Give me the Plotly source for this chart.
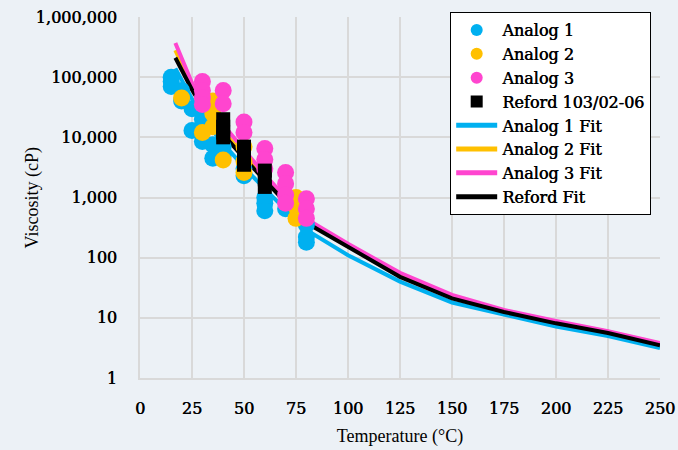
import plotly.graph_objects as go

# ---------------- data ----------------
a1_temp = [15, 15, 15, 20, 20, 25, 25, 30, 30, 35, 35, 40, 40, 50, 50, 60, 60, 60, 70, 80, 80, 80]
a1_visc = [100000, 85000, 70000, 60000, 40000, 30000, 13000, 20000, 8500, 7500, 4500, 7000, 5000,
           3000, 2300, 1000, 800, 600, 650, 350, 220, 180]

a2_temp = [20, 30, 35, 35, 35, 40, 50, 50, 50, 75, 75, 75]
a2_visc = [45000, 12000, 40000, 25000, 15000, 4200, 7000, 4000, 2600, 1000, 700, 450]

a3_temp = [30, 30, 30, 30, 40, 40, 50, 50, 60, 60, 60, 70, 70, 70, 70, 80, 80, 80]
a3_visc = [85000, 60000, 45000, 35000, 60000, 36000, 18000, 12000, 6500, 4300, 3000,
           2600, 1700, 1100, 800, 950, 650, 450]

ref_temp = [40, 40, 40, 40, 50, 50, 50, 60, 60, 60]
ref_visc = [20000, 15000, 12000, 10000, 7000, 5000, 3500, 2800, 2000, 1500]

fit_temp = [17, 20, 25, 30, 40, 50, 60, 70, 80, 100, 125, 150, 175, 200, 225, 250]
a1_fit = [140000, 89000, 42000, 21000, 7900, 3200, 1380, 620, 290, 110, 40, 18, 11.2, 7.2, 5.0, 3.15]
a2_fit = [280000, 166000, 69000, 35500, 12600, 5000, 2100, 910, 410, 158, 50, 22.4, 13.2, 8.5, 5.9, 3.7]
a3_fit = [370000, 210000, 80000, 42000, 16000, 6000, 2400, 1000, 440, 170, 56, 24, 13.5, 8.9, 6.0, 3.8]
ref_fit = [210000, 132000, 62000, 32000, 11200, 4500, 1900, 830, 380, 150, 48, 21, 12.5, 8.1, 5.6, 3.5]

y_tickvals = [1, 10, 100, 1000, 10000, 100000, 1000000]
y_ticktext = ["1", "10", "100", "1,000", "10,000", "100,000", "1,000,000"]

# ---------------- style ----------------
BLUE = "#00B0F0"
YELLOW = "#FFC000"
PINK = "#FF45CF"
BLACK = "#000000"
BG = "#ECF1F6"
GRID = "#D9D9D9"
TITLE_FONT = "Liberation Serif"
LABEL_FONT = "DejaVu Serif"
FAUXBOLD = "0.5px 0 0 #000"

fig = go.Figure()

# fit lines (drawn underneath markers)
for name, vals, col, rank in [("Analog 1 Fit", a1_fit, BLUE, 5),
                              ("Analog 2 Fit", a2_fit, YELLOW, 6),
                              ("Analog 3 Fit", a3_fit, PINK, 7),
                              ("Reford Fit", ref_fit, BLACK, 8)]:
    fig.add_trace(go.Scatter(x=fit_temp, y=vals, mode="lines", name=name,
                             line=dict(color=col, width=4), legendrank=rank))

# data markers
for name, xs, ys, col, sym, size, rank in [
        ("Analog 1", a1_temp, a1_visc, BLUE, "circle", 17, 1),
        ("Analog 2", a2_temp, a2_visc, YELLOW, "circle", 17, 2),
        ("Analog 3", a3_temp, a3_visc, PINK, "circle", 17, 3),
        ("Reford 103/02-06", ref_temp, ref_visc, BLACK, "square", 14, 4)]:
    fig.add_trace(go.Scatter(x=xs, y=ys, mode="markers", name=name,
                             marker=dict(color=col, symbol=sym, size=size, line=dict(width=0)),
                             legendrank=rank))

fig.update_layout(
    width=678, height=450,
    margin=dict(l=140, r=18, t=17, b=72, autoexpand=False),
    paper_bgcolor=BG, plot_bgcolor=BG,
    font=dict(family=TITLE_FONT, color="black", size=17),
    legend=dict(xref="container", yref="container", x=0.664, y=0.973,
                xanchor="left", yanchor="top",
                bgcolor="white", bordercolor="black", borderwidth=1,
                font=dict(family=LABEL_FONT, size=16, shadow=FAUXBOLD),
                itemwidth=41,
                itemsizing="constant", tracegroupgap=0),
    showlegend=True,
    annotations=[dict(text="Viscosity (cP)", xref="paper", yref="paper",
                      x=-0.2058, y=0.5, xanchor="center", yanchor="middle",
                      textangle=-90, showarrow=False,
                      font=dict(family=TITLE_FONT, size=18, color="black"))],
)

fig.update_xaxes(range=[0, 250], dtick=25, tick0=0,
                 showgrid=True, gridcolor=GRID, gridwidth=1.5,
                 zeroline=False, showline=True, linecolor=GRID, linewidth=1.5,
                 tickfont=dict(family=LABEL_FONT, size=16, shadow=FAUXBOLD),
                 ticks="", ticklabelstandoff=15, automargin=False,
                 title=dict(text="Temperature (°C)", font=dict(family=TITLE_FONT, size=18), standoff=12))

fig.update_yaxes(type="log", range=[0, 6],
                 tickvals=y_tickvals, ticktext=y_ticktext,
                 showgrid=True, gridcolor=GRID, gridwidth=1.5,
                 zeroline=False, showline=True, linecolor=GRID, linewidth=1.5,
                 tickfont=dict(family=LABEL_FONT, size=16, shadow=FAUXBOLD),
                 ticks="", ticklabelstandoff=18, automargin=False)

fig.write_html("out.html", config={"displayModeBar": False},
               post_script="document.body.style.margin='0';document.body.style.background='%s';" % BG)
